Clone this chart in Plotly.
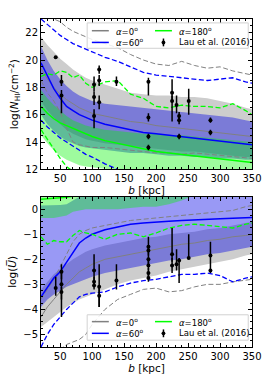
import plotly.graph_objects as go
from plotly.subplots import make_subplots

# ---------------- data ----------------
B = [20, 30, 40, 50, 60, 70, 80, 90, 100, 120, 140, 160, 180, 200, 220, 240, 260, 280, 300, 320, 340, 350]

# top panel: log N_HI
n_g_hi = [21.7, 21.1, 20.6, 20.1, 19.7, 19.3, 19.0, 18.7, 18.5, 18.2, 17.9, 17.6, 17.5, 17.4, 17.4, 17.3, 17.3, 17.2, 17.0, 16.8, 16.5, 16.4]
n_g_lo = [17.0, 16.3, 15.8, 15.3, 14.9, 14.6, 14.4, 14.2, 14.1, 13.9, 13.8, 13.7, 13.6, 13.5, 13.4, 13.3, 13.3, 13.2, 13.1, 13.0, 12.9, 12.9]
n_g_med = [19.4, 18.6, 18.0, 17.5, 17.1, 16.8, 16.5, 16.3, 16.1, 15.9, 15.7, 15.5, 15.4, 15.2, 15.1, 15.0, 14.9, 14.8, 14.7, 14.6, 14.5, 14.4]
n_g_up = [23.3, 23.2, 23.0, 22.8, 22.4, 22.1, 21.9, 21.7, 21.5, 21.2, 20.9, 20.4, 20.0, 19.7, 19.6, 19.9, 19.6, 19.4, 19.5, 19.2, 19.0, 18.9]
n_g_dn = [18.5, 17.6, 17.0, 16.2, 15.0, 14.0, 13.8, 13.7, 13.6, 13.6, 13.5, 13.4, 13.3, 13.2, 13.2, 13.1, 13.2, 13.1, 13.0, 12.9, 12.8, 12.8]

n_b_hi = [21.0, 20.0, 19.2, 18.6, 18.1, 17.7, 17.4, 17.2, 17.0, 16.8, 16.7, 16.6, 16.5, 16.4, 16.3, 16.2, 16.1, 16.0, 15.9, 15.8, 15.6, 15.5]
n_b_lo = [16.0, 15.3, 14.8, 14.4, 14.1, 13.9, 13.7, 13.6, 13.5, 13.4, 13.3, 13.2, 13.2, 13.1, 13.0, 13.0, 12.9, 12.9, 12.8, 12.8, 12.7, 12.7]
n_b_med = [19.8, 18.8, 17.9, 17.2, 16.6, 16.3, 16.0, 15.8, 15.6, 15.3, 15.1, 14.9, 14.7, 14.6, 14.5, 14.4, 14.3, 14.2, 14.1, 14.0, 13.9, 13.8]
n_b_up = [23.0, 22.6, 22.2, 21.8, 21.5, 21.2, 21.0, 20.8, 20.6, 20.2, 19.9, 19.5, 19.1, 18.9, 18.8, 18.7, 18.6, 18.5, 18.6, 18.7, 18.4, 18.3]
n_b_dn = [15.6, 15.1, 14.7, 14.3, 14.0, 13.7, 13.4, 13.1, 12.9, 12.4, 12.0, 11.7, 11.5, 11.3, 11.2, 11.1, 11.0, 11.0, 10.9, 10.9, 10.8, 10.8]

n_gr_hi = [17.8, 17.2, 16.7, 16.3, 15.9, 15.6, 15.4, 15.2, 15.1, 14.9, 14.8, 14.7, 14.6, 14.6, 14.5, 14.5, 14.4, 14.3, 14.2, 14.1, 14.0, 14.0]
n_gr_lo = [14.5, 13.9, 13.4, 13.0, 12.7, 12.5, 12.3, 12.2, 12.1, 12.0, 11.9, 11.8, 11.7, 11.6, 11.5, 11.5, 11.4, 11.4, 11.3, 11.3, 11.2, 11.2]
n_gr_med = [16.6, 16.1, 15.7, 15.4, 15.2, 15.0, 14.8, 14.6, 14.4, 14.1, 13.9, 13.7, 13.5, 13.3, 13.2, 13.1, 13.0, 12.9, 12.8, 12.7, 12.6, 12.5]
n_gr_up = [18.8, 19.0, 18.9, 19.2, 19.1, 18.7, 18.9, 18.3, 18.0, 18.4, 18.5, 17.5, 17.2, 16.6, 16.5, 16.7, 16.6, 16.6, 16.5, 16.8, 16.3, 16.0]
n_gr_dn = [14.9, 14.2, 13.5, 12.8, 12.2, 11.8, 11.5, 11.3, 11.1, 10.9, 10.8, 10.7, 10.6, 10.5, 10.5, 10.4, 10.4, 10.3, 10.3, 10.2, 10.2, 10.2]

# bottom panel: log U
u_g_hi = [-3.2, -2.9, -2.6, -2.4, -2.2, -2.0, -1.85, -1.7, -1.6, -1.45, -1.35, -1.25, -1.15, -1.1, -1.0, -0.95, -0.9, -0.8, -0.75, -0.65, -0.55, -0.5]
u_g_lo = [-4.7, -4.5, -4.3, -4.1, -3.9, -3.75, -3.6, -3.5, -3.4, -3.2, -3.0, -2.85, -2.75, -2.65, -2.5, -2.4, -2.3, -2.2, -2.1, -2.0, -1.85, -1.8]
u_g_med = [-4.3, -3.9, -3.6, -3.3, -3.0, -2.75, -2.5, -2.35, -2.2, -2.0, -1.9, -1.8, -1.7, -1.6, -1.5, -1.4, -1.35, -1.25, -1.2, -1.1, -1.05, -1.0]
u_g_up = [-3.6, -3.2, -2.8, -2.3, -1.8, -1.3, -1.0, -0.85, -0.75, -0.65, -0.55, -0.45, -0.4, -0.35, -0.3, -0.25, -0.2, -0.15, -0.1, -0.05, 0.1, 0.15]
u_g_dn = [-6.0, -6.0, -5.9, -5.6, -5.4, -5.3, -5.2, -5.0, -4.6, -4.0, -3.6, -3.4, -3.2, -3.15, -3.3, -3.25, -3.1, -3.0, -3.0, -2.9, -2.85, -2.8]

u_b_hi = [0.15, 0.15, 0.15, 0.17, 0.2, 0.35, 0.5, 0.7, 0.8, 0.9, 1.0, 1.0, 1.0, 1.0, 1.0, 1.0, 1.0, 1.0, 1.0, 1.0, 1.0, 1.0]
u_b_lo = [-3.9, -3.6, -3.4, -3.25, -3.1, -3.0, -2.9, -2.8, -2.7, -2.55, -2.45, -2.35, -2.25, -2.15, -2.05, -2.0, -1.9, -1.8, -1.75, -1.65, -1.55, -1.5]
u_b_med = [-3.5, -3.1, -2.75, -2.5, -2.1, -1.7, -1.35, -1.15, -1.0, -0.82, -0.7, -0.6, -0.55, -0.5, -0.48, -0.45, -0.42, -0.4, -0.38, -0.36, -0.35, -0.33]
u_b_dn = [-5.5, -5.0, -4.6, -4.3, -4.0, -3.75, -3.5, -3.4, -3.35, -3.3, -3.1, -2.95, -2.85, -2.8, -2.7, -2.6, -2.6, -2.55, -2.65, -2.9, -2.75, -2.7]

u_gr_hi = [1.0] * 22
u_gr_lo = [-0.35, -0.35, -0.35, -0.3, -0.25, -0.1, -0.05, 0.0, 0.0, 0.0, 0.0, 0.05, 0.1, 0.1, 0.2, 0.35, 0.55, 0.7, 0.8, 0.9, 1.0, 1.0]
u_gr_med = [0.4, 0.42, 0.42, 0.45, 0.48, 0.52, 0.56, 0.6, 0.65, 0.7, 0.75, 0.8, 0.85, 0.9, 0.95, 1.0, 1.0, 1.0, 1.0, 1.0, 1.0, 1.0]
u_gr_dn = [-1.1, -1.4, -1.25, -1.3, -1.3, -1.05, -0.85, -0.95, -1.0, -1.2, -1.0, -0.95, -1.1, -0.95, -0.75, -0.65, -0.6, -0.65, -0.7, -0.75, -0.6, -0.55]

# Lau et al. (2016) measurements
lau_bN = [43, 52, 52, 103, 103, 103, 111, 111, 111, 138, 188, 188, 188, 188, 225, 225, 232, 236, 236, 236, 251, 285, 285]
lau_N = [20.2, 18.4, 17.4, 18.2, 17.3, 15.9, 19.3, 18.5, 16.9, 18.4, 18.4, 15.8, 14.4, 13.6, 17.6, 17.0, 16.7, 15.9, 15.6, 14.4, 17.0, 15.6, 14.7]
lau_N_ep = [0.0, 0.5, 0.4, 0.6, 0.4, 0.5, 0.3, 0.4, 0.5, 0.4, 0.3, 0.3, 0.2, 0.2, 1.0, 0.4, 0.7, 0.3, 0.3, 0.2, 0.9, 0.2, 0.2]
lau_N_em = [0.0, 0.3, 1.3, 0.5, 0.6, 0.9, 0.3, 0.4, 0.5, 0.3, 1.0, 0.3, 0.2, 0.2, 0.6, 1.5, 0.6, 0.3, 0.3, 0.2, 1.0, 0.2, 0.2]

lau_bU = [43, 52, 52, 52, 103, 103, 103, 111, 111, 138, 188, 188, 188, 188, 188, 188, 225, 225, 232, 236, 251, 285, 285]
lau_U = [-3.15, -2.5, -3.0, -3.3, -2.45, -2.9, -3.05, -3.1, -3.45, -2.85, -1.5, -1.65, -2.0, -2.25, -2.55, -2.75, -1.8, -2.25, -2.2, -2.05, -1.95, -1.85, -2.45]
lau_U_ep = [0.45, 0.3, 0.5, 0.2, 0.65, 0.2, 0.15, 0.9, 0.3, 0.65, 0.4, 0.2, 0.2, 0.2, 0.2, 0.2, 1.05, 0.3, 0.6, 0.1, 0.95, 0.55, 0.3]
lau_U_em = [0.3, 0.3, 1.3, 0.3, 0.4, 0.2, 0.15, 0.8, 0.45, 0.35, 0.3, 0.2, 0.2, 0.2, 0.2, 0.15, 0.3, 0.3, 0.25, 0.9, 0.05, 0.3, 0.1]

# ---------------- styles ----------------
GRAY = "#808080"
BLUE = "#0000ff"
GREEN = "#00ff00"
FILL_GRAY = "rgb(205,205,205)"
FILL_BLUE = "rgba(0,0,230,0.40)"
FILL_GREEN = "rgba(0,245,0,0.38)"
FONT = "DejaVu Sans"
DASH = "5px,2.5px"

fig = make_subplots(rows=2, cols=1, vertical_spacing=28 / 336)


def band(x, hi, lo, color, row):
    fig.add_trace(go.Scatter(x=x + x[::-1], y=hi + lo[::-1], fill="toself", fillcolor=color,
                             line=dict(width=0), mode="lines", showlegend=False, hoverinfo="skip"),
                  row=row, col=1)


def line(x, y, color, row, dash="solid", width=1.3):
    fig.add_trace(go.Scatter(x=x, y=y, mode="lines", line=dict(color=color, width=width, dash=dash),
                             showlegend=False), row=row, col=1)


def data(x, y, ep, em, row):
    fig.add_trace(go.Scatter(x=x, y=y, mode="markers",
                             marker=dict(color="black", size=4),
                             error_y=dict(type="data", symmetric=False, array=ep, arrayminus=em,
                                          color="black", thickness=1.5, width=0),
                             showlegend=False), row=row, col=1)


# top panel
band(B, n_g_hi, n_g_lo, FILL_GRAY, 1)
band(B, n_b_hi, n_b_lo, FILL_BLUE, 1)
band(B, n_gr_hi, n_gr_lo, FILL_GREEN, 1)
line(B, n_g_up, GRAY, 1, DASH, 1.0)
line(B, n_g_dn, GRAY, 1, DASH, 1.0)
line(B, n_g_med, GRAY, 1, "solid", 1.0)
line(B, n_b_up, BLUE, 1, DASH)
line(B, n_b_dn, BLUE, 1, DASH)
line(B, n_b_med, BLUE, 1, "solid", 1.5)
line(B, n_gr_up, GREEN, 1, DASH)
line(B, n_gr_dn, GREEN, 1, DASH)
line(B, n_gr_med, GREEN, 1, "solid", 1.5)
data(lau_bN, lau_N, lau_N_ep, lau_N_em, 1)

# bottom panel
band(B, u_g_hi, u_g_lo, FILL_GRAY, 2)
band(B, u_b_hi, u_b_lo, FILL_BLUE, 2)
band(B, u_gr_hi, u_gr_lo, FILL_GREEN, 2)
line(B, u_g_up, GRAY, 2, DASH, 1.0)
line(B, u_g_dn, GRAY, 2, DASH, 1.0)
line(B, u_g_med, GRAY, 2, "solid", 1.0)
line(B, u_b_dn, BLUE, 2, DASH)
line(B, u_b_med, BLUE, 2, "solid", 1.5)
line(B, u_gr_dn, GREEN, 2, DASH)
line(B, u_gr_med, GREEN, 2, "solid", 1.5)
data(lau_bU, lau_U, lau_U_ep, lau_U_em, 2)

axis_common = dict(showline=True, linecolor="black", linewidth=1, mirror="allticks",
                   ticks="inside", ticklen=4, tickwidth=1, tickcolor="black",
                   showgrid=False, zeroline=False,
                   tickfont=dict(family=FONT, size=10, color="black"))

for r in (1, 2):
    fig.update_xaxes(range=[20, 350], dtick=50, tick0=0,
                     minor=dict(ticks="inside", ticklen=2, dtick=10, tick0=0, tickcolor="black"),
                     title=dict(text="<i>b</i> [kpc]", font=dict(family=FONT, size=10.5, color="black"), standoff=3),
                     row=r, col=1, **axis_common)

fig.update_yaxes(range=[12, 23], dtick=2, tick0=0,
                 minor=dict(ticks="inside", ticklen=2, dtick=0.5, tick0=0, tickcolor="black"),
                 title=dict(text="log(<i>N</i><sub>HI</sub>/cm<sup>−2</sup>)", font=dict(family=FONT, size=10.5, color="black"), standoff=4),
                 row=1, col=1, **axis_common)
fig.update_yaxes(range=[-5.5, 0.5], dtick=1, tick0=0,
                 minor=dict(ticks="inside", ticklen=2, dtick=0.25, tick0=0, tickcolor="black"),
                 title=dict(text="log(<i>U\u0305</i>)", font=dict(family=FONT, size=10.5, color="black"), standoff=4),
                 row=2, col=1, **axis_common)


# ---------------- legends (drawn in axis-domain coordinates) ----------------
def px2fx(px):
    return (px - 38) / 224


def legend_box(xref, yref, top, bottom, ax_top, ax_bottom):
    def fy(py):
        return (ax_bottom - py) / (ax_bottom - ax_top)
    fig.add_shape(type="rect", xref=xref, yref=yref,
                  x0=px2fx(87), x1=px2fx(258), y0=fy(bottom), y1=fy(top),
                  line=dict(color="rgb(210,210,210)", width=1), fillcolor="rgba(255,255,255,0.85)", layer="above")
    return fy


def legend(xref, yref, fy, r1, r2):
    items = [
        (r1, "line", GRAY, "<i>α</i>=0<sup>o</sup>", 92),
        (r2, "line", BLUE, "<i>α</i>=60<sup>o</sup>", 92),
        (r1, "line", GREEN, "<i>α</i>=180<sup>o</sup>", 159),
        (r2, "err", "black", "Lau et al. (2016)", 159),
    ]
    for py, kind, color, text, x0 in items:
        if kind == "line":
            fig.add_shape(type="line", xref=xref, yref=yref, x0=px2fx(x0), x1=px2fx(x0 + 18),
                          y0=fy(py), y1=fy(py), line=dict(color=color, width=1.5), layer="above")
        else:
            xc = x0 + 9
            fig.add_shape(type="line", xref=xref, yref=yref, x0=px2fx(xc), x1=px2fx(xc),
                          y0=fy(py - 4), y1=fy(py + 4), line=dict(color="black", width=1.5), layer="above")
            fig.add_shape(type="circle", xref=xref, yref=yref, x0=px2fx(xc - 2), x1=px2fx(xc + 2),
                          y0=fy(py + 2), y1=fy(py - 2), line=dict(color="black", width=0),
                          fillcolor="black", layer="above")
        fig.add_annotation(xref=xref, yref=yref, x=px2fx(x0 + 23), y=fy(py), text=text,
                           showarrow=False, xanchor="left", yanchor="middle",
                           font=dict(family=FONT, size=8.5, color="black"))


fy1 = legend_box("x domain", "y domain", 23, 49, 19, 173)
legend("x domain", "y domain", fy1, 31, 43)
fy2 = legend_box("x2 domain", "y2 domain", 322, 348, 201, 355)
legend("x2 domain", "y2 domain", fy2, 329, 341)

fig.update_layout(width=274, height=384, margin=dict(l=38, r=12, t=19, b=29),
                  paper_bgcolor="white", plot_bgcolor="white", showlegend=False,
                  font=dict(family=FONT, size=10, color="black"))

fig.write_html("out.html", config={"displayModeBar": False},
               post_script="document.body.style.margin='0px';document.body.style.overflow='hidden';")
